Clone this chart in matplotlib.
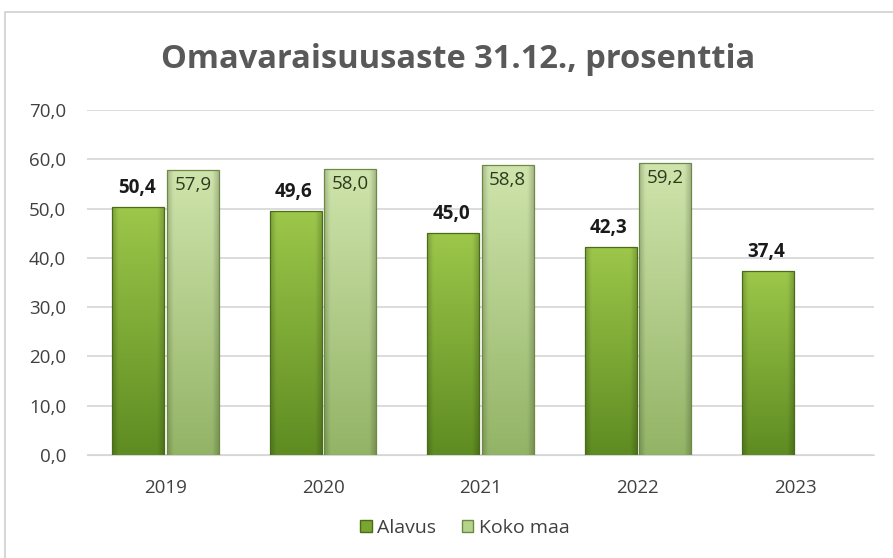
import matplotlib.pyplot as plt
import numpy as np
from matplotlib.colors import to_rgb
from matplotlib.patches import Rectangle

years = ["2019", "2020", "2021", "2022", "2023"]
alavus = [50.4, 49.6, 45.0, 42.3, 37.4]
koko_maa = [57.9, 58.0, 58.8, 59.2, None]
yticks = [0, 10, 20, 30, 40, 50, 60, 70]

plt.rcParams['font.family'] = ['Open Sans', 'DejaVu Sans']

fig = plt.figure(figsize=(8.93, 5.58), dpi=100)
fig.patches.append(Rectangle((5/893, -0.05), 1.0, 1 - 12/558 + 0.05,
                             transform=fig.transFigure, fill=False,
                             edgecolor='#d0d0d0', linewidth=1.2))
ax = fig.add_axes([87/893, 1 - 455/558, (874 - 87)/893, (455 - 110)/558])

x = np.arange(len(years))
w = 0.33


def grad_bar(x0, h, c_top, c_bot, edge):
    # vertical shading, darker at the sides (bevel look)
    ty = np.linspace(0, 1, 80)[:, None]          # 0 = top
    tx = np.linspace(0, 1, 40)[None, :]
    side = 1 - 0.18 * (np.clip(0.12 - tx, 0, None) / 0.12 + np.clip(tx - 0.88, 0, None) / 0.12)
    c1 = np.array(to_rgb(c_top))
    c2 = np.array(to_rgb(c_bot))
    img = c1 + (c2 - c1) * ty[..., None]
    img = img * side[..., None]
    img = np.broadcast_to(img, (80, 40, 3))
    im = ax.imshow(img, extent=[x0, x0 + w, 0, h], aspect='auto', zorder=2)
    r = Rectangle((x0, 0), w, h, facecolor='none', edgecolor=edge,
                  linewidth=0.9, zorder=3)
    ax.add_patch(r)
    im.set_clip_path(r)


for i in range(len(years)):
    grad_bar(x[i] - w - 0.008, alavus[i], '#9cc74a', '#5f8c22', '#4a6b17')
    ax.text(x[i] - w / 2 - 0.02, alavus[i] + 1.8, f"{alavus[i]:.1f}".replace('.', ','),
            ha='center', va='bottom', fontsize=13.5, fontweight='bold', color='#1a1a1a')
    if koko_maa[i] is not None:
        grad_bar(x[i] + 0.008, koko_maa[i], '#cfe4ac', '#93b466', '#6d8a45')
        ax.text(x[i] + w / 2 + 0.008, koko_maa[i] - 1.2, f"{koko_maa[i]:.1f}".replace('.', ','),
                ha='center', va='top', fontsize=13.5, color='#2e3a1e')

ax.set_xlim(-0.5, len(years) - 0.5)
ax.set_ylim(0, 70)
ax.set_yticks(yticks)
ax.set_yticklabels([f"{v:.1f}".replace('.', ',') for v in yticks], fontsize=13.5, color='#404040')
ax.set_xticks(x)
ax.set_xticklabels(years, fontsize=13.5, color='#404040')
ax.tick_params(length=0)
ax.tick_params(axis='x', pad=17)
ax.tick_params(axis='y', pad=15)
ax.grid(axis='y', color='#d6d6d6', linewidth=1.2)
ax.set_axisbelow(True)
for s in ax.spines.values():
    s.set_visible(False)
ax.spines['bottom'].set_visible(True)
ax.spines['bottom'].set_color('#d6d6d6')

fig.text(458/893, 1 - 60/558, "Omavaraisuusaste 31.12., prosenttia", ha='center', va='center',
         fontsize=23.5, fontweight='bold', color='#595959')

h1 = Rectangle((0, 0), 1, 1, facecolor='#7aa530', edgecolor='#4a6b17')
h2 = Rectangle((0, 0), 1, 1, facecolor='#b5d38a', edgecolor='#6d8a45')
fig.legend([h1, h2], ["Alavus", "Koko maa"], loc='center', bbox_to_anchor=(465/893, 1 - 528/558),
           ncol=2, frameon=False, fontsize=14, handlelength=0.6, handleheight=0.6,
           handletextpad=0.3, columnspacing=1.3, labelcolor='#404040')

fig.savefig("out.png", dpi=100)
